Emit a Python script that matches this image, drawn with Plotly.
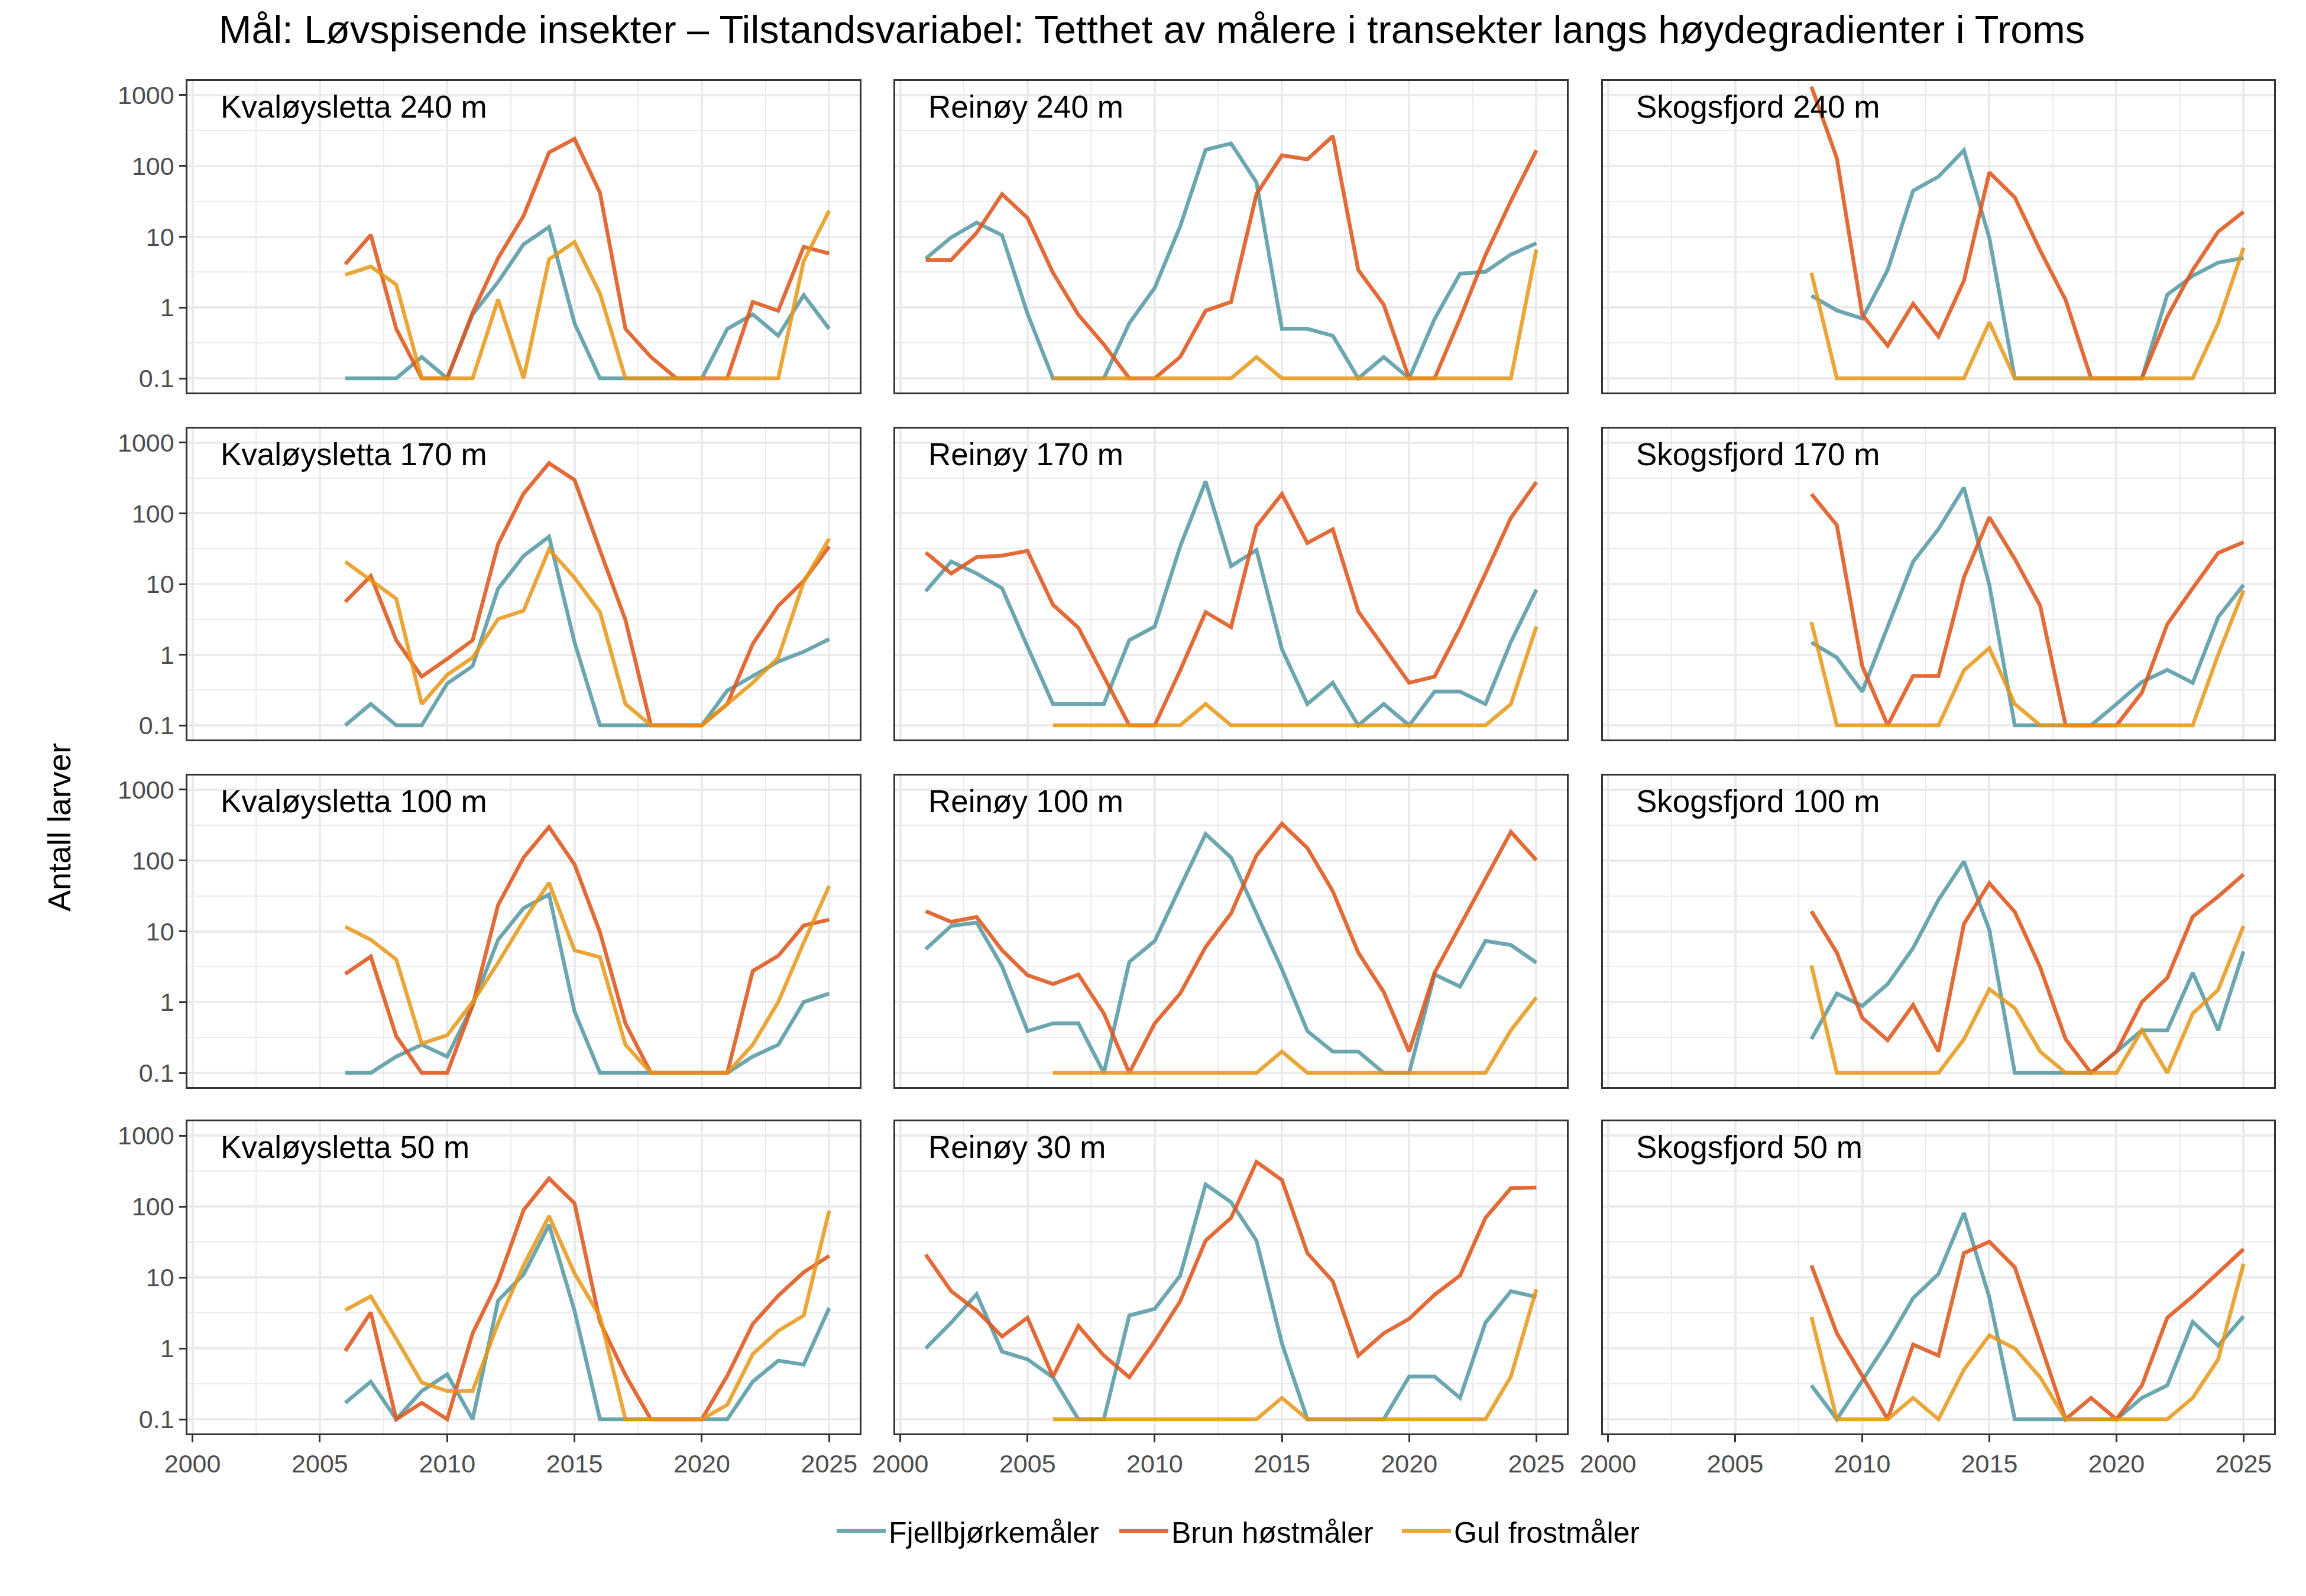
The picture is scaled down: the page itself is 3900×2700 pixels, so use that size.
import plotly.graph_objects as go

# ---------------- data ----------------
YEARS_2001 = [2001, 2002, 2003, 2004, 2005, 2006, 2007, 2008, 2009, 2010, 2011, 2012, 2013,
              2014, 2015, 2016, 2017, 2018, 2019, 2020, 2021, 2022, 2023, 2024, 2025]
YEARS_2006 = [2006, 2007, 2008, 2009, 2010, 2011, 2012, 2013, 2014, 2015, 2016, 2017, 2018,
              2019, 2020, 2021, 2022, 2023, 2024, 2025]
YEARS_2008 = [2008, 2009, 2010, 2011, 2012, 2013, 2014, 2015, 2016, 2017, 2018, 2019, 2020,
              2021, 2022, 2023, 2024, 2025]

SERIES_NAMES = ["Fjellbjørkemåler", "Brun høstmåler", "Gul frostmåler"]
PANEL_TITLES = ["Kvaløysletta 240 m", "Reinøy 240 m", "Skogsfjord 240 m",
                "Kvaløysletta 170 m", "Reinøy 170 m", "Skogsfjord 170 m",
                "Kvaløysletta 100 m", "Reinøy 100 m", "Skogsfjord 100 m",
                "Kvaløysletta 50 m", "Reinøy 30 m", "Skogsfjord 50 m"]

# Kvaløysletta 240 m (2006-2025)
KV240_FJELL = [0.1, 0.1, 0.1, 0.2, 0.1, 0.8, 2.3, 7.8, 13.7, 0.6, 0.1, 0.1, 0.1, 0.1, 0.1, 0.5, 0.8, 0.4, 1.5, 0.5]
KV240_BRUN = [4.1, 10.6, 0.5, 0.1, 0.1, 0.85, 5.0, 19.7, 155, 241, 41.7, 0.5, 0.2, 0.1, 0.1, 0.1, 1.2, 0.9, 7.2, 5.8]
KV240_GUL = [2.9, 3.8, 2.1, 0.1, 0.1, 0.1, 1.3, 0.1, 4.8, 8.4, 1.57, 0.1, 0.1, 0.1, 0.1, 0.1, 0.1, 0.1, 4.5, 23.3]

# Reinøy 240 m (2001-2025; Gul from 2006)
RE240_FJELL = [4.9, 9.8, 15.8, 10.5, 0.82, 0.1, 0.1, 0.1, 0.6, 1.9, 14, 169, 208, 58.7, 0.5, 0.5, 0.4, 0.1, 0.2, 0.1, 0.69, 3.0, 3.2, 5.6, 8.1]
RE240_BRUN = [4.7, 4.7, 11.4, 40, 18.4, 3.1, 0.79, 0.3, 0.1, 0.1, 0.2, 0.9, 1.2, 40, 141, 124, 264, 3.4, 1.1, 0.1, 0.1, 0.7, 5.5, 32, 166]
RE240_GUL = [0.1, 0.1, 0.1, 0.1, 0.1, 0.1, 0.1, 0.1, 0.2, 0.1, 0.1, 0.1, 0.1, 0.1, 0.1, 0.1, 0.1, 0.1, 0.1, 6.6]

# Skogsfjord 240 m (2008-2025)
SK240_FJELL = [1.47, 0.91, 0.7, 3.4, 44.7, 70.7, 166, 9.6, 0.1, 0.1, 0.1, 0.1, 0.1, 0.1, 1.52, 2.8, 4.3, 5.0]
SK240_BRUN = [1316, 129, 0.79, 0.29, 1.13, 0.39, 2.4, 81, 36, 6.4, 1.28, 0.1, 0.1, 0.1, 0.74, 3.4, 11.8, 22.5]
SK240_GUL = [3.1, 0.1, 0.1, 0.1, 0.1, 0.1, 0.1, 0.62, 0.1, 0.1, 0.1, 0.1, 0.1, 0.1, 0.1, 0.1, 0.6, 7.0]

# Kvaløysletta 170 m (2006-2025)
KV170_FJELL = [0.1, 0.2, 0.1, 0.1, 0.39, 0.69, 8.6, 25, 46.8, 1.5, 0.1, 0.1, 0.1, 0.1, 0.1, 0.31, 0.5, 0.8, 1.1, 1.66]
KV170_BRUN = [5.6, 13, 1.6, 0.49, 0.87, 1.6, 36.7, 190, 514, 297, 30, 3.1, 0.1, 0.1, 0.1, 0.2, 1.42, 4.9, 11.1, 33.9]
KV170_GUL = [20.6, 11.1, 6.2, 0.2, 0.52, 0.91, 3.2, 4.2, 31, 12.3, 4.0, 0.2, 0.1, 0.1, 0.1, 0.2, 0.4, 0.91, 10.7, 43.7]

# Reinøy 170 m
RE170_FJELL = [7.9, 20.8, 14.1, 8.7, 1.3, 0.2, 0.2, 0.2, 1.6, 2.5, 34, 283, 17.9, 30.3, 1.2, 0.2, 0.4, 0.1, 0.2, 0.1, 0.3, 0.3, 0.2, 1.52, 8.3]
RE170_BRUN = [27.9, 14.1, 24, 25.2, 29.5, 5.1, 2.4, 0.49, 0.1, 0.1, 0.6, 4.0, 2.45, 65.8, 188, 38, 59.4, 4.1, 1.28, 0.4, 0.49, 2.4, 14.1, 86.5, 277]
RE170_GUL = [0.1, 0.1, 0.1, 0.1, 0.1, 0.1, 0.2, 0.1, 0.1, 0.1, 0.1, 0.1, 0.1, 0.1, 0.1, 0.1, 0.1, 0.1, 0.2, 2.5]

# Skogsfjord 170 m
SK170_FJELL = [1.49, 0.91, 0.3, 2.4, 20.6, 60, 231, 9.7, 0.1, 0.1, 0.1, 0.1, 0.2, 0.41, 0.61, 0.4, 3.4, 9.7]
SK170_BRUN = [188, 68, 0.69, 0.1, 0.5, 0.5, 12.4, 88, 22.7, 4.9, 0.1, 0.1, 0.1, 0.29, 2.7, 8.7, 27.5, 39]
SK170_GUL = [2.9, 0.1, 0.1, 0.1, 0.1, 0.1, 0.6, 1.24, 0.2, 0.1, 0.1, 0.1, 0.1, 0.1, 0.1, 0.1, 1.0, 8.1]

# Kvaløysletta 100 m
KV100_FJELL = [0.1, 0.1, 0.17, 0.25, 0.17, 0.9, 7.6, 21.2, 33.2, 0.74, 0.1, 0.1, 0.1, 0.1, 0.1, 0.1, 0.17, 0.25, 1.0, 1.32]
KV100_BRUN = [2.5, 4.4, 0.33, 0.1, 0.1, 0.9, 23.5, 110, 297, 88, 9.7, 0.5, 0.1, 0.1, 0.1, 0.1, 2.75, 4.5, 12.1, 14.6]
KV100_GUL = [11.6, 7.6, 4.0, 0.26, 0.34, 1.0, 3.6, 14.1, 48.4, 5.4, 4.3, 0.25, 0.1, 0.1, 0.1, 0.1, 0.25, 1.0, 6.9, 43.7]

# Reinøy 100 m
RE100_FJELL = [5.6, 11.9, 13.3, 3.2, 0.39, 0.5, 0.5, 0.1, 3.7, 7.3, 42, 237, 110, 17.9, 2.9, 0.39, 0.2, 0.2, 0.1, 0.1, 2.45, 1.66, 7.3, 6.4, 3.6]
RE100_BRUN = [19.2, 13.6, 15.9, 5.4, 2.4, 1.8, 2.45, 0.69, 0.1, 0.5, 1.32, 6.0, 17.9, 118, 330, 150, 36.7, 5.0, 1.39, 0.2, 2.6, 12, 55, 254, 101]
RE100_GUL = [0.1, 0.1, 0.1, 0.1, 0.1, 0.1, 0.1, 0.1, 0.1, 0.2, 0.1, 0.1, 0.1, 0.1, 0.1, 0.1, 0.1, 0.1, 0.4, 1.16]

# Skogsfjord 100 m
SK100_FJELL = [0.3, 1.32, 0.88, 1.8, 5.8, 27.9, 97, 10.4, 0.1, 0.1, 0.1, 0.1, 0.2, 0.4, 0.4, 2.6, 0.4, 5.2]
SK100_BRUN = [19.2, 5.0, 0.6, 0.29, 0.91, 0.2, 12.7, 47.7, 18.8, 3.1, 0.3, 0.1, 0.2, 1.0, 2.2, 16.1, 31, 63.7]
SK100_GUL = [3.3, 0.1, 0.1, 0.1, 0.1, 0.1, 0.3, 1.52, 0.82, 0.2, 0.1, 0.1, 0.1, 0.4, 0.1, 0.69, 1.49, 11.9]

# Kvaløysletta 50 m
KV50_FJELL = [0.17, 0.34, 0.1, 0.25, 0.43, 0.1, 4.7, 11, 55, 3.4, 0.1, 0.1, 0.1, 0.1, 0.1, 0.1, 0.34, 0.67, 0.59, 3.7]
KV50_BRUN = [0.92, 3.2, 0.1, 0.17, 0.1, 1.63, 8.8, 89, 248, 111, 2.36, 0.42, 0.1, 0.1, 0.1, 0.41, 2.2, 5.5, 11.8, 20.1]
KV50_GUL = [3.45, 5.4, 1.36, 0.33, 0.25, 0.25, 2.27, 14.8, 73, 11.4, 2.8, 0.1, 0.1, 0.1, 0.1, 0.16, 0.83, 1.76, 2.9, 87]

# Reinøy 30 m
RE30_FJELL = [1.0, 2.3, 5.8, 0.9, 0.7, 0.39, 0.1, 0.1, 2.9, 3.6, 10.6, 204, 115, 33, 1.17, 0.1, 0.1, 0.1, 0.1, 0.4, 0.4, 0.2, 2.3, 6.4, 5.3]
RE30_BRUN = [21, 6.4, 3.4, 1.47, 2.7, 0.4, 2.07, 0.79, 0.39, 1.26, 4.6, 33, 69, 424, 236, 22, 8.8, 0.79, 1.63, 2.6, 5.7, 10.6, 69, 181, 185]
RE30_GUL = [0.1, 0.1, 0.1, 0.1, 0.1, 0.1, 0.1, 0.1, 0.1, 0.2, 0.1, 0.1, 0.1, 0.1, 0.1, 0.1, 0.1, 0.1, 0.4, 6.8]

# Skogsfjord 50 m
SK50_FJELL = [0.3, 0.1, 0.35, 1.24, 5.1, 11.2, 81, 5.2, 0.1, 0.1, 0.1, 0.1, 0.1, 0.2, 0.3, 2.36, 1.09, 2.83]
SK50_BRUN = [14.8, 1.63, 0.41, 0.1, 1.13, 0.79, 22, 31.8, 13.9, 1.2, 0.1, 0.2, 0.1, 0.3, 2.7, 5.4, 11.8, 25]
SK50_GUL = [2.77, 0.1, 0.1, 0.1, 0.2, 0.1, 0.5, 1.52, 1.0, 0.39, 0.1, 0.1, 0.1, 0.1, 0.1, 0.2, 0.7, 15.6]

Y_TICKS = [0.1, 1, 10, 100, 1000]
Y_TICKTEXT = ["0.1", "1", "10", "100", "1000"]
X_TICKS = [2000, 2005, 2010, 2015, 2020, 2025]

PANELS = [
    (YEARS_2006, YEARS_2006, KV240_FJELL, KV240_BRUN, KV240_GUL),
    (YEARS_2001, YEARS_2006, RE240_FJELL, RE240_BRUN, RE240_GUL),
    (YEARS_2008, YEARS_2008, SK240_FJELL, SK240_BRUN, SK240_GUL),
    (YEARS_2006, YEARS_2006, KV170_FJELL, KV170_BRUN, KV170_GUL),
    (YEARS_2001, YEARS_2006, RE170_FJELL, RE170_BRUN, RE170_GUL),
    (YEARS_2008, YEARS_2008, SK170_FJELL, SK170_BRUN, SK170_GUL),
    (YEARS_2006, YEARS_2006, KV100_FJELL, KV100_BRUN, KV100_GUL),
    (YEARS_2001, YEARS_2006, RE100_FJELL, RE100_BRUN, RE100_GUL),
    (YEARS_2008, YEARS_2008, SK100_FJELL, SK100_BRUN, SK100_GUL),
    (YEARS_2006, YEARS_2006, KV50_FJELL, KV50_BRUN, KV50_GUL),
    (YEARS_2001, YEARS_2006, RE30_FJELL, RE30_BRUN, RE30_GUL),
    (YEARS_2008, YEARS_2008, SK50_FJELL, SK50_BRUN, SK50_GUL),
]

# ---------------- style ----------------
W, H = 3900, 2700
COLORS = ["rgba(82,152,162,0.85)", "rgba(222,86,28,0.88)", "rgba(230,150,22,0.85)"]
FONT = "Liberation Sans, Arial, Helvetica, sans-serif"
COL_PX = [(317, 1454), (1514, 2650), (2711, 3846)]
ROW_PX = [(137, 664), (725, 1251), (1312, 1839), (1897, 2425)]
GRID = "#EBEBEB"
BORDER = "#333333"

fig = go.Figure()
layout = {}
annotations = []

for i, (xa, xg, fj, br, gu) in enumerate(PANELS):
    r, c = divmod(i, 3)
    n = i + 1
    xname = "xaxis" if n == 1 else f"xaxis{n}"
    yname = "yaxis" if n == 1 else f"yaxis{n}"
    xref = "x" if n == 1 else f"x{n}"
    yref = "y" if n == 1 else f"y{n}"
    x0, x1 = COL_PX[c]
    y0, y1 = ROW_PX[r]
    bottom = r == 3
    left = c == 0
    layout[xname] = dict(
        domain=[x0 / W, x1 / W], anchor=yref, range=[1999.8, 2026.2], automargin=False,
        tickvals=X_TICKS, showticklabels=bottom, ticks="outside" if bottom else "",
        ticklen=12, tickwidth=2.5, tickcolor=BORDER,
        tickfont=dict(family=FONT, size=43, color="#4D4D4D"),
        showgrid=True, gridcolor=GRID, gridwidth=3.5, zeroline=False,
        minor=dict(tickvals=[2002.5, 2007.5, 2012.5, 2017.5, 2022.5], showgrid=True,
                   gridcolor=GRID, gridwidth=1.8, ticks=""),
        showline=True, mirror=True, linecolor=BORDER, linewidth=2.5,
    )
    layout[yname] = dict(
        domain=[1 - y1 / H, 1 - y0 / H], anchor=xref, type="log", range=[-1.2, 3.2],
        automargin=False,
        tickvals=Y_TICKS, ticktext=Y_TICKTEXT, showticklabels=left,
        ticks="outside" if left else "", ticklen=11, tickwidth=2.5, tickcolor=BORDER,
        tickfont=dict(family=FONT, size=43, color="#4D4D4D"),
        showgrid=True, gridcolor=GRID, gridwidth=3.5, zeroline=False,
        minor=dict(tickvals=[0.316, 3.16, 31.6, 316], showgrid=True,
                   gridcolor=GRID, gridwidth=1.8, ticks=""),
        showline=True, mirror=True, linecolor=BORDER, linewidth=2.5,
    )
    for k, (xs, ys) in enumerate([(xa, fj), (xa, br), (xg, gu)]):
        fig.add_trace(go.Scatter(
            x=xs, y=ys, mode="lines", name=SERIES_NAMES[k],
            line=dict(color=COLORS[k], width=6.5),
            xaxis=xref, yaxis=yref, showlegend=(i == 0), legendgroup=SERIES_NAMES[k],
        ))
    annotations.append(dict(
        text=PANEL_TITLES[i], xref=f"{xref} domain", yref=f"{yref} domain",
        x=0.0475, y=0.917, xanchor="left", yanchor="middle", showarrow=False,
        font=dict(family=FONT, size=53, color="black"),
    ))

annotations.append(dict(
    text="Mål: Løvspisende insekter – Tilstandsvariabel: Tetthet av målere i transekter langs høydegradienter i Troms",
    xref="paper", yref="paper", x=368 / W, y=1 - 50 / H, xanchor="left", yanchor="middle",
    showarrow=False, font=dict(family=FONT, size=66.6, color="black"),
))
annotations.append(dict(
    text="Antall larver", xref="paper", yref="paper", x=100 / W, y=1 - 1400 / H,
    xanchor="center", yanchor="middle", textangle=-90, showarrow=False,
    font=dict(family=FONT, size=54, color="black"),
))

fig.update_layout(
    width=W, height=H, margin=dict(l=0, r=0, t=0, b=0, autoexpand=False),
    paper_bgcolor="white", plot_bgcolor="white",
    annotations=annotations,
    legend=dict(orientation="h", x=1410 / W, xanchor="left", y=1 - 2590 / H, yanchor="middle",
                font=dict(family=FONT, size=50, color="black"), bgcolor="rgba(0,0,0,0)",
                itemwidth=83, entrywidth=380, entrywidthmode="pixels"),
    **layout,
)

fig.write_html("out.html", config={"displayModeBar": False},
               post_script="document.body.style.margin='0';document.body.style.overflow='hidden';")
